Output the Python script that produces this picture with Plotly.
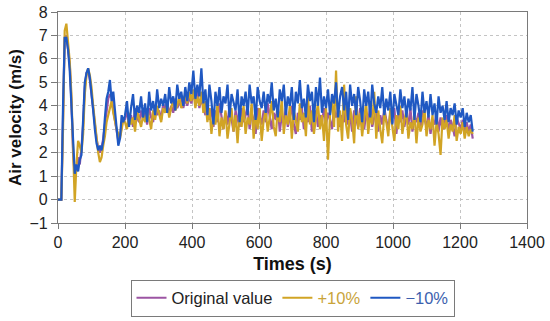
import plotly.graph_objects as go

# time axis (s)
times_early = list(range(0, 200, 5))
times_main = list(range(200, 1241, 6))
times = times_early + times_main

orig_early = [0, 0, 0, 3.5, 6.9, 7.0, 6.5, 5.8, 4.2, 2.0, 1.0, 1.3, 1.8, 1.5, 2.2, 3.2, 4.8, 5.4, 5.5, 5.1,
              4.5, 3.8, 3.2, 2.6, 2.2, 2.0, 2.2, 2.6, 3.2, 3.8, 4.3, 4.5, 4.4, 3.8, 3.3, 2.8, 2.5, 2.7, 3.2, 3.5]
plus_early = [0, 0, 0, 3.0, 7.2, 7.5, 6.8, 5.9, 4.5, 2.3, -0.1, 1.5, 2.5, 2.3, 2.0, 2.8, 4.5, 5.3, 5.6, 5.3,
              4.8, 4.0, 3.3, 2.6, 2.0, 1.6, 1.8, 2.3, 2.7, 3.3, 3.6, 3.9, 4.2, 3.7, 3.3, 3.0, 2.8, 2.6, 3.0, 3.4]
minus_early = [0, 0, 0, 4.0, 6.9, 6.9, 6.4, 5.5, 4.0, 2.0, 1.1, 1.5, 1.2, 1.7, 1.9, 3.4, 5.0, 5.4, 5.6, 5.2,
               4.6, 3.8, 3.0, 2.4, 2.1, 2.3, 2.1, 2.5, 3.5, 4.3, 4.6, 5.1, 4.2, 4.6, 3.8, 3.0, 2.3, 2.6, 3.6, 3.3]

minus_main = [
    3.6, 4.2, 3.1, 3.9, 4.5, 3.4, 4.0, 3.7, 4.4, 3.5,
    4.1, 3.3, 4.6, 3.8, 4.2, 3.6, 4.7, 3.9, 4.3, 4.0,
    4.5, 3.7, 4.8, 4.1, 4.4, 3.8, 4.9, 4.3, 4.6, 4.0,
    4.8, 4.2, 5.0, 4.5, 5.5, 4.3, 4.9, 4.4, 5.6, 4.1,
    4.7, 3.6, 4.9, 4.2, 3.2, 4.6, 4.0, 4.8, 3.7, 4.4,
    4.1, 4.9, 3.5, 4.5, 4.2, 3.8, 4.7, 3.3, 4.4, 4.0,
    4.6, 3.6, 4.9, 4.1, 4.4, 3.4, 4.8, 4.2, 3.9, 4.6,
    3.7, 4.5, 4.1, 5.0, 3.8, 4.3, 3.5, 4.7, 4.2, 4.9,
    3.6, 4.4, 4.0, 4.8, 3.4, 4.6, 4.1, 5.1, 3.9, 4.3,
    3.5, 4.9, 4.2, 4.6, 3.3, 4.8, 4.0, 5.2, 3.7, 4.4,
    3.9, 4.7, 3.6, 4.5, 4.1, 5.0, 3.5, 4.4, 4.8, 3.8,
    4.6, 3.4, 4.9, 4.0, 4.5, 3.6, 4.8, 4.2, 3.3, 4.7,
    4.0, 4.6, 3.5, 4.9, 4.1, 3.7, 4.4, 3.9, 4.8, 3.6,
    4.3, 3.8, 4.6, 3.2, 4.5, 4.0, 3.6, 4.7, 3.9, 4.4,
    3.5, 4.3, 3.8, 4.8, 3.4, 4.5, 4.0, 3.3, 4.6, 3.7,
    4.2, 3.5, 4.5, 3.6, 4.1, 3.2, 4.4, 3.7, 4.0, 3.4,
    4.2, 3.3, 3.9, 3.6, 4.1, 3.2, 3.8, 3.5, 3.9, 3.1,
    3.7, 3.3, 3.6, 2.9]

plus_main = [
    3.3, 3.0, 3.7, 3.2, 3.5, 2.9, 3.8, 3.4, 3.1, 3.6,
    3.3, 3.9, 3.5, 3.0, 3.8, 3.4, 4.0, 3.6, 3.3, 3.9,
    3.7, 4.1, 3.5, 3.9, 4.3, 3.8, 4.0, 4.4, 3.9, 4.2,
    4.5, 4.1, 4.6, 4.2, 4.7, 3.9, 4.4, 4.0, 4.6, 3.7,
    4.2, 3.3, 3.9, 2.8, 3.6, 3.2, 4.1, 2.7, 3.5, 3.0,
    3.8, 2.6, 3.4, 3.9, 2.9, 3.6, 2.4, 3.7, 3.1, 4.0,
    2.8, 3.5, 3.2, 4.1, 2.6, 3.7, 3.0, 3.9, 2.5, 3.4,
    3.8, 2.9, 3.5, 4.2, 3.1, 2.7, 3.9, 3.3, 4.3, 2.8,
    3.6, 3.2, 4.0, 2.6, 3.8, 3.4, 2.9, 4.1, 3.3, 3.7,
    2.7, 4.4, 3.2, 3.8, 2.8, 3.5, 4.1, 3.0, 3.6, 2.5,
    3.9, 1.7, 3.6, 4.3, 3.1, 5.5, 2.9, 3.8, 2.5, 4.9,
    3.2, 2.6, 3.9, 3.4, 2.4, 4.4, 3.0, 3.7, 2.7, 3.5,
    4.1, 2.8, 3.6, 3.2, 4.6, 2.6, 3.8, 3.0, 2.4, 3.7,
    3.3, 2.7, 3.9, 3.1, 2.5, 3.6, 3.0, 4.0, 2.8, 3.4,
    3.8, 2.6, 3.3, 3.0, 3.7, 2.4, 3.5, 2.9, 3.2, 3.9,
    2.7, 3.4, 3.0, 3.6, 2.3, 3.3, 2.8, 1.9, 3.5, 3.0,
    3.4, 2.6, 3.2, 2.9, 3.6, 2.5, 3.1, 2.8, 3.3, 2.6,
    3.1, 2.7, 3.0, 2.8]

orig_main = [
    3.4, 3.8, 3.2, 3.6, 3.1, 3.9, 3.5, 3.3, 3.8, 3.4,
    3.7, 3.2, 3.9, 3.5, 3.3, 4.0, 3.6, 3.8, 3.4, 4.1,
    3.8, 4.2, 3.6, 4.0, 3.7, 4.3, 3.9, 4.1, 4.4, 3.9,
    4.3, 4.0, 4.4, 4.1, 4.5, 4.2, 4.6, 3.9, 4.3, 4.0,
    3.6, 4.2, 3.4, 3.9, 3.1, 3.8, 3.3, 4.1, 3.5, 3.0,
    3.7, 3.2, 4.0, 3.4, 2.9, 3.8, 3.5, 3.1, 3.9, 3.3,
    3.6, 4.0, 3.0, 3.7, 3.4, 2.8, 3.9, 3.5, 3.2, 3.8,
    3.3, 4.1, 3.6, 3.0, 3.7, 3.4, 4.0, 2.9, 3.6, 3.3,
    3.9, 3.1, 3.5, 4.0, 3.2, 2.8, 3.7, 3.4, 3.9, 3.0,
    3.6, 3.3, 4.0, 2.9, 3.5, 3.8, 3.1, 3.6, 3.3, 3.9,
    3.2, 3.7, 3.4, 3.0, 3.9, 3.5, 3.8, 3.1, 3.6, 3.3,
    4.0, 3.2, 3.6, 2.9, 3.8, 3.4, 3.1, 3.9, 3.5, 3.0,
    3.7, 3.3, 4.0, 3.1, 3.5, 3.8, 2.9, 3.6, 3.2, 3.9,
    3.4, 3.0, 3.7, 3.5, 3.9, 2.8, 3.6, 3.3, 3.8, 3.1,
    3.6, 3.2, 3.9, 2.9, 3.5, 3.3, 3.7, 3.0, 3.8, 3.4,
    3.1, 3.6, 2.8, 3.4, 3.2, 3.7, 2.9, 3.5, 3.0, 3.3,
    3.6, 2.9, 3.4, 3.1, 2.7, 3.5, 3.2, 3.0, 3.4, 2.8,
    3.3, 2.9, 3.2, 2.6]

original = orig_early + orig_main
plus10 = plus_early + plus_main
minus10 = minus_early + minus_main

x_ticks = [0, 200, 400, 600, 800, 1000, 1200, 1400]
y_ticks = [-1, 0, 1, 2, 3, 4, 5, 6, 7, 8]

C_ORIG = "#9c55a3"
C_PLUS = "#d1a425"
C_MINUS = "#1f58c2"
FONT = "Liberation Sans, Arial, sans-serif"

fig = go.Figure()
fig.add_trace(go.Scatter(x=times, y=original, mode="lines", name="Original value",
                         line=dict(color=C_ORIG, width=2.2)))
fig.add_trace(go.Scatter(x=times, y=plus10, mode="lines",
                         name="<span style='color:#c9a43a'>+10%</span>",
                         line=dict(color=C_PLUS, width=2.2)))
fig.add_trace(go.Scatter(x=times, y=minus10, mode="lines",
                         name="<span style='color:#3c5fae'>\u221210%</span>",
                         line=dict(color=C_MINUS, width=2.2)))

axis_common = dict(
    showline=True, linecolor="#7a7a7a", linewidth=1.3, mirror=True,
    showgrid=True, gridcolor="#c4c4c4", griddash="dot", gridwidth=1,
    ticks="outside", tickcolor="#7a7a7a",
    zeroline=False, automargin=False,
    tickfont=dict(family=FONT, size=16, color="#222"),
)

fig.update_layout(
    width=550, height=321,
    margin=dict(l=58, r=23, t=12, b=98, autoexpand=False),
    paper_bgcolor="white", plot_bgcolor="white",
    font=dict(family=FONT, size=16, color="#222"),
    xaxis=dict(range=[0, 1400], tickvals=x_ticks, ticklen=5,
               title=dict(text="<b>Times (s)</b>", font=dict(size=18, color="#111"), standoff=7),
               **axis_common),
    yaxis=dict(range=[-1, 8], tickvals=y_ticks, ticklen=6,
               title=dict(text="<b>Air velocity (m/s)</b>", font=dict(size=17, color="#111"), standoff=3),
               **axis_common),
    legend=dict(orientation="h", x=0.5, xanchor="center", y=-0.268, yanchor="top",
                bordercolor="#7a7a7a", borderwidth=1, bgcolor="white",
                font=dict(family=FONT, size=16.5, color="#222"), itemwidth=30, tracegroupgap=0),
    showlegend=True,
)

fig.write_html("out.html", config={"displayModeBar": False},
               post_script="document.body.style.margin='0px';")
